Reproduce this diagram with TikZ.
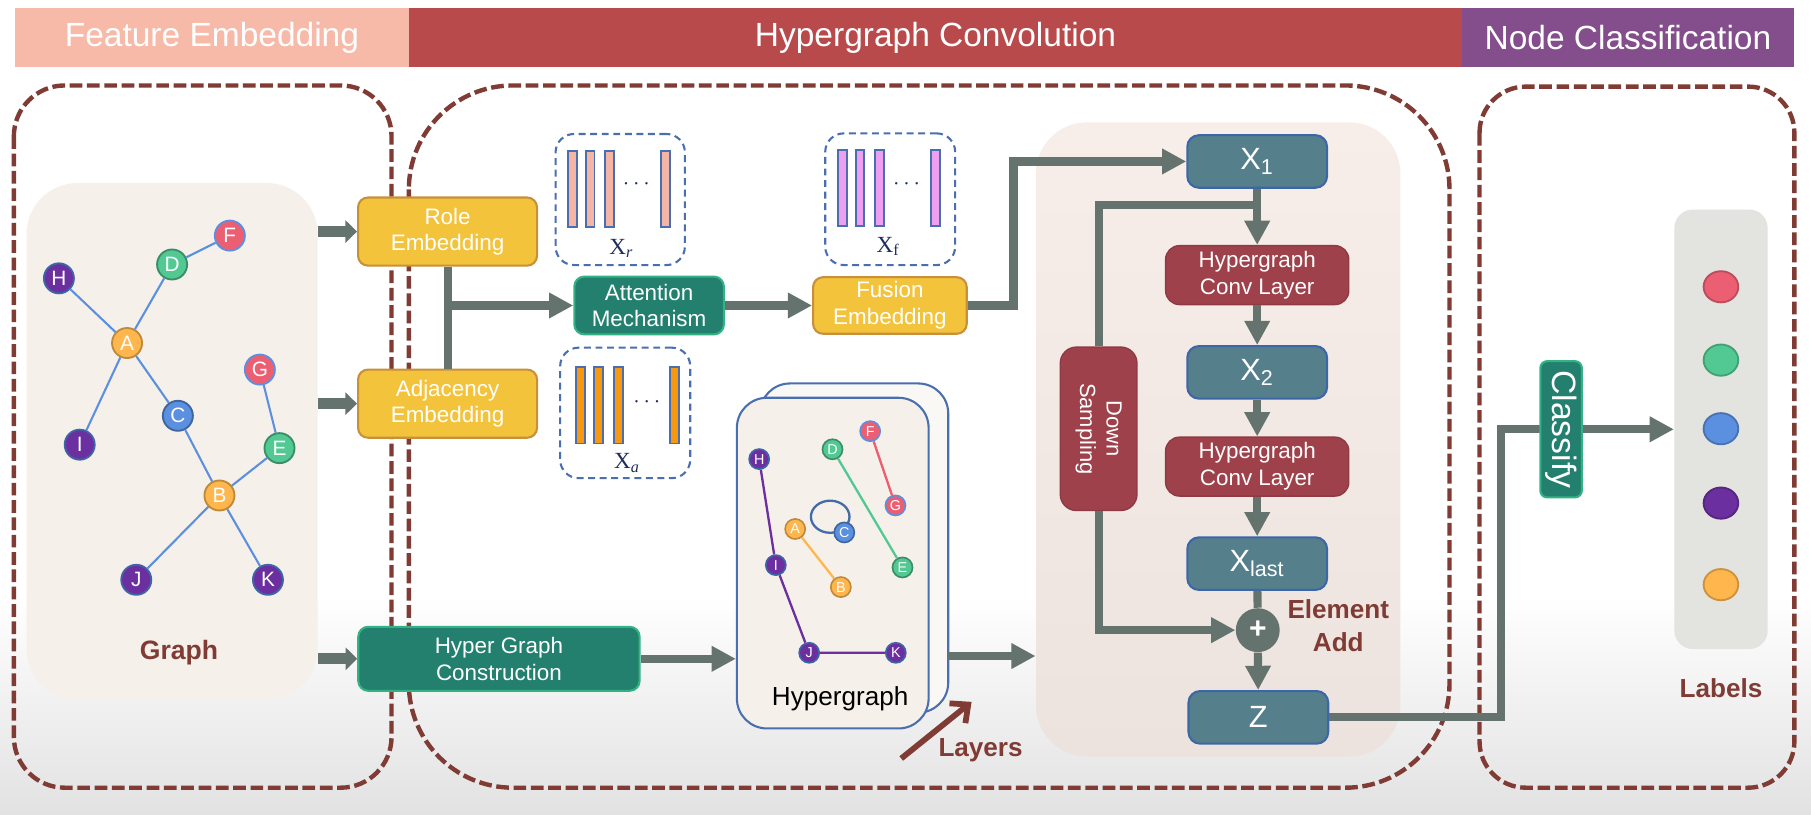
\documentclass[tikz,border=0pt]{standalone}
\usepackage{fontspec}
\setmainfont{Liberation Sans}
\newfontfamily\xfont{Liberation Serif}
\usetikzlibrary{arrows.meta,shapes.geometric,positioning}

\definecolor{titlepink}{HTML}{F7BAA9}
\definecolor{titlered}{HTML}{B94A4C}
\definecolor{titlepurple}{HTML}{844D8C}
\definecolor{framebrown}{HTML}{7F3B34}
\definecolor{conncol}{HTML}{65736E}
\definecolor{embfill}{HTML}{F3C33C}
\definecolor{embdraw}{HTML}{C8903A}
\definecolor{tealfill}{HTML}{23806E}
\definecolor{tealdraw}{HTML}{33B383}
\definecolor{xfill}{HTML}{567F8C}
\definecolor{xdraw}{HTML}{3D66A8}
\definecolor{convfill}{HTML}{9E414B}
\definecolor{beige}{HTML}{F5F0EA}
\definecolor{convpanel}{HTML}{F8EEE9}
\definecolor{labpanel}{HTML}{E3E3DF}
\definecolor{bggray}{HTML}{E2E2E2}
\definecolor{vecblue}{HTML}{4A6FB0}
\definecolor{navy}{HTML}{1F2D5C}
\definecolor{barR}{HTML}{F4B4A6}
\definecolor{barF}{HTML}{EE9FF0}
\definecolor{barA}{HTML}{F7980E}
\definecolor{cOrange}{HTML}{FFB74D}
\definecolor{cBlue}{HTML}{5B8FE0}
\definecolor{cGreen}{HTML}{52C993}
\definecolor{cRed}{HTML}{EC5F72}
\definecolor{cPurple}{HTML}{6B2FA0}

\begin{document}
\begin{tikzpicture}[x=0.5pt,y=-0.5pt,
    conn/.style={draw=conncol,line width=3.5pt,-{Triangle[length=10.5pt,width=10.5pt]}},
    gconn/.style={draw=conncol,line width=4.6pt,-{Triangle[length=5pt,width=9.5pt]}},
    link/.style={draw=conncol,line width=3.5pt},
    frame/.style={draw=framebrown,line width=1.9pt,dash pattern=on 5.5pt off 2pt,rounded corners=22pt},
    band/.style={rectangle,inner sep=0pt,minimum height=25.55pt,text=white,font=\fontsize{14.5}{16}\selectfont},
    box/.style={rectangle,inner sep=0pt,align=center,text=white,font=\fontsize{9.7}{11.5}\selectfont},
    emb/.style={box,fill=embfill,draw=embdraw,line width=0.9pt,rounded corners=4.3pt,minimum width=77.5pt,minimum height=29.5pt},
    teal/.style={box,fill=tealfill,draw=tealdraw,line width=0.9pt,rounded corners=4.3pt},
    xbox/.style={box,fill=xfill,draw=xdraw,line width=0.9pt,rounded corners=5pt,minimum width=60.5pt,minimum height=22.75pt,font=\fontsize{13.3}{14}\selectfont},
    hconv/.style={box,fill=convfill,draw=convfill!90!black,line width=0.6pt,rounded corners=6pt,minimum width=79.3pt,minimum height=25.5pt,font=\fontsize{9.7}{11.7}\selectfont},
    vecbox/.style={rectangle,draw=vecblue,line width=0.9pt,dash pattern=on 3pt off 2pt,rounded corners=8pt,inner sep=0pt},
    bar/.style={rectangle,draw=vecblue,line width=0.8pt,inner sep=0pt,minimum width=3.75pt},
    xlabel/.style={text=navy,font=\xfont\fontsize{10}{10}\selectfont},
    gnode/.style={circle,line width=0.8pt,inner sep=0pt,minimum size=13pt,text=white,font=\fontsize{9}{9}\selectfont},
    hnode/.style={gnode,minimum size=8.7pt,line width=0.7pt,font=\fontsize{6.2}{6}\selectfont},
    nA/.style={fill=cOrange,draw=cOrange!75!black},
    nC/.style={fill=cBlue,draw=cBlue!70!black},
    nD/.style={fill=cGreen,draw=cGreen!70!black},
    nF/.style={fill=cRed,draw=cBlue},
    nH/.style={fill=cPurple,draw=xdraw},
    gedge/.style={draw=cBlue,line width=0.9pt},
    hedge/.style={line width=1pt},
    card/.style={rectangle,draw=vecblue,line width=0.9pt,rounded corners=13pt,inner sep=0pt},
    dot/.style={ellipse,line width=0.8pt,inner sep=0pt,minimum width=15pt,minimum height=13.5pt},
    note/.style={text=framebrown,align=center,font=\fontsize{11.3}{14}\selectfont\bfseries}]

  \fill[white] (0,0) rectangle (1568,705);
  \shade[top color=white,bottom color=bggray] (0,515) rectangle (1568,705);
  \useasboundingbox (0,0) rectangle (1568,705);

  \node[band,fill=titlepink,minimum width=170.5pt] (tfe) at (183.5,32.75) {Feature Embedding};
  \node[band,fill=titlered,minimum width=456pt] (thc) at (810,32.75) {Hypergraph Convolution};
  \node[band,fill=titlepurple,minimum width=143.5pt] (tnc) at (1409.5,32.75) {Node Classification};

  \draw[frame] (12,74) rectangle (339,682);
  \draw[frame,rounded corners=45pt] (354,74) rectangle (1255,682);
  \draw[frame,rounded corners=20pt] (1281,75) rectangle (1553.6,682);

  \node[rectangle,fill=beige,rounded corners=22pt,minimum width=126pt,minimum height=223.5pt] (graph) at (149,382) {};
  \node[rectangle,top color=convpanel,bottom color=convpanel!90!gray,rounded corners=22pt,minimum width=157.7pt,minimum height=274.5pt] (conv) at (1054.7,380.5) {};
  \node[rectangle,fill=labpanel,rounded corners=8pt,minimum width=40.4pt,minimum height=190.3pt] (labels) at (1490.1,371.7) {};

  \node[gnode,nF] (F) at (199,204) {F};
  \node[gnode,nD] (D) at (149,229) {D};
  \node[gnode,nH] (H) at (51,241) {H};
  \node[gnode,nA] (A) at (110,297) {A};
  \node[gnode,nF] (G) at (225,320) {G};
  \node[gnode,nC] (C) at (154,360) {C};
  \node[gnode,nH] (I) at (69,385) {I};
  \node[gnode,nD] (E) at (242,388) {E};
  \node[gnode,nA] (B) at (190,429) {B};
  \node[gnode,nH] (J) at (118,502) {J};
  \node[gnode,nH] (K) at (232,502) {K};
  \draw[gedge] (F) -- (D) (D) -- (A) (H) -- (A) (A) -- (I) (A) -- (C) (C) -- (B)
    (G) -- (E) (E) -- (B) (B) -- (J) (B) -- (K);
  \node[note,font=\fontsize{11.5}{14}\selectfont\bfseries] (graphlab) at (155,565) {Graph};

  \node[emb] (role) at (387.5,200.5) {Role\\Embedding};
  \node[emb] (adj) at (387.5,349.5) {Adjacency\\Embedding};
  \node[teal,minimum width=64.75pt,minimum height=25pt] (att) at (562,264.5) {Attention\\Mechanism};
  \node[emb,minimum width=66.5pt,minimum height=24.5pt] (fusion) at (770.5,264.5) {Fusion\\Embedding};
  \node[teal,minimum width=121.8pt,minimum height=27.7pt] (hgc) at (432,570.4) {Hyper Graph\\Construction};

  \node[vecbox,minimum width=56pt,minimum height=56.75pt] (xr) at (537,172.75) {};
  \foreach \bx [count=\i] in {495.5,511,527.5,576.25}
    \node[bar,fill=barR,minimum height=32.9pt] (xr\i) at (\bx,163.4) {};
  \node[text=navy] (xrdots) at (551,160) {$\cdots$};
  \node[xlabel] (xrlab) at (538,215) {X\textsubscript{\itshape r}};

  \node[vecbox,minimum width=56.25pt,minimum height=57pt] (xf) at (770.75,172.5) {};
  \foreach \bx [count=\i] in {729.3,744.6,761.65,809.9}
    \node[bar,fill=barF,minimum height=33pt] (xf\i) at (\bx,163) {};
  \node[text=navy] (xfdots) at (785,160) {$\cdots$};
  \node[xlabel] (xflab) at (769,213.6) {X\textsubscript{f}};

  \node[vecbox,minimum width=56.3pt,minimum height=56.5pt] (xa) at (541.3,357.5) {};
  \foreach \bx [count=\i] in {502.8,518.25,535.35,584}
    \node[bar,fill=barA,minimum height=33pt] (xa\i) at (\bx,351) {};
  \node[text=navy] (xadots) at (560,348) {$\cdots$};
  \node[xlabel] (xalab) at (543,401) {X\textsubscript{\itshape a}};

  \node[card,fill=beige!50!white,minimum width=81.5pt,minimum height=142.5pt] (back) at (739.5,474.5) {};
  \node[card,fill=beige,minimum width=83pt,minimum height=143.15pt] (front) at (721,487.55) {};
  \draw[hedge,draw=cBlue!75!black] (718.8,447.4) ellipse [x radius=8.35pt,y radius=6.95pt];
  \node[hnode,nH] (hH) at (657.3,397.5) {H};
  \node[hnode,nD] (hD) at (720.8,389) {D};
  \node[hnode,nF] (hF) at (753.4,373.3) {F};
  \node[hnode,nF] (hG) at (775.3,437.6) {G};
  \node[hnode,nA] (hA) at (688.5,458) {A};
  \node[hnode,nC] (hC) at (731,461) {C};
  \node[hnode,nH] (hI) at (671.7,489.3) {I};
  \node[hnode,nD] (hE) at (781.4,491.3) {E};
  \node[hnode,nA] (hB) at (728,508.3) {B};
  \node[hnode,nH] (hJ) at (700.6,565.2) {J};
  \node[hnode,nH] (hK) at (775.6,565.2) {K};
  \draw[hedge,draw=cPurple] (hH) -- (hI) -- (hJ) -- (hK);
  \draw[hedge,draw=cGreen] (hD) -- (hE);
  \draw[hedge,draw=cRed] (hF) -- (hG);
  \draw[hedge,draw=cOrange] (hA) -- (hB);
  \node[font=\fontsize{11.3}{12}\selectfont] (hglab) at (727.4,604.7) {Hypergraph};

  \node[xbox] (x1) at (1088.5,139.8) {X\textsubscript{1}};
  \node[hconv] (hc1) at (1088.5,238.2) {Hypergraph\\Conv Layer};
  \node[xbox] (x2) at (1088.5,322.4) {X\textsubscript{2}};
  \node[hconv] (hc2) at (1088.5,404) {Hypergraph\\Conv Layer};
  \node[xbox] (xl) at (1088.5,488) {X\textsubscript{last}};
  \node[circle,fill=conncol,inner sep=0pt,minimum size=19pt,text=white,font=\fontsize{13}{13}\selectfont\bfseries] (plus) at (1089,545.6) {+};
  \node[xbox] (z) at (1089.5,621.1) {Z};
  \node[hconv,rotate=-90,minimum width=70.75pt,minimum height=33.2pt,rounded corners=7pt,font=\fontsize{9.5}{11.5}\selectfont] (ds) at (951.2,371.25) {Down\\Sampling};
  \node[note] (addlab) at (1158.7,541.6) {Element\\Add};

  \coordinate (fturn) at (877.5,264.5);
  \coordinate (skip) at (1088.5,177.5);
  \coordinate (zturn) at (1299.6,621.1);
  \coordinate (hgout) at (821,568);
  \coordinate (lay0) at (780.3,656.7);
  \coordinate (lay1) at (841.2,607.7);

  \draw[gconn] (graph.east |- role.west) -- (role.west);
  \draw[gconn] (graph.east |- adj.west) -- (adj.west);
  \draw[gconn] (graph.east |- hgc.west) -- (hgc.west);
  \draw[link] (role) -- (adj);
  \draw[conn] (role |- att) -- (att);
  \draw[conn] (att) -- (fusion);
  \draw[conn] (fusion.east) -- (fturn) |- (x1.west);
  \draw[conn] (hgc) -- (hgc -| front.west);
  \draw[conn] (hgout) -- (hgout -| conv.west);
  \draw[conn] (x1) -- (hc1);
  \draw[conn] (hc1) -- (x2);
  \draw[conn] (x2) -- (hc2);
  \draw[conn] (hc2) -- (xl);
  \draw[link] (xl) -- (plus);
  \draw[conn] (plus) -- (z);
  \draw[link] (skip) -| (ds.west);
  \draw[conn] (ds.east) |- (plus.west);
  \draw[conn] (z.east) -- (zturn) |- (labels.west);
  \draw[draw=framebrown,line width=2.5pt,-{Straight Barb[length=6pt,width=11pt]}] (lay0) -- (lay1);
  \node[note] (laylab) at (849,649.5) {Layers};

  \node[teal,rotate=-90,minimum width=59pt,minimum height=18pt,rounded corners=3pt,font=\fontsize{14.6}{15}\selectfont] (classify) at (1351.6,371.7) {Classify};
  \foreach \c/\yy [count=\i] in {cRed/248.3,cGreen/311.8,cBlue/371.2,cPurple/435.6,cOrange/506.2}
    \node[dot,fill=\c,draw=\c!80!black] (dot\i) at (1490,\yy) {};
  \node[note] (lablab) at (1490,596) {Labels};
\end{tikzpicture}
\end{document}
